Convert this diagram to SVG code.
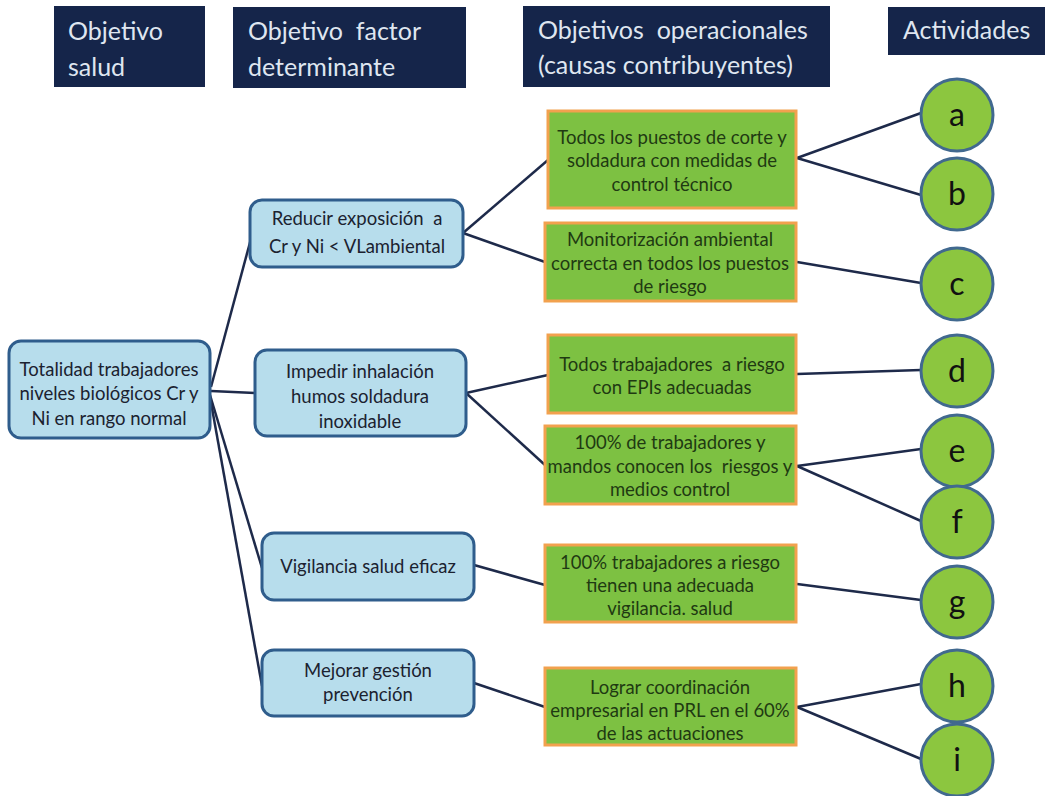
<svg xmlns="http://www.w3.org/2000/svg" width="1053" height="796" viewBox="0 0 1053 796">
<style>
.hdr{fill:#15254a}
.ht{font-family:Lato,"Open Sans",sans-serif;font-size:25px;fill:#dfe6f0}
.bn{fill:#b7ddec;stroke:#2f5d8c;stroke-width:3}
.bt{font-family:Lato,"Open Sans",sans-serif;font-size:18.5px;fill:#1b2230;text-anchor:middle}
.gn{fill:#7dc142;stroke:#f2a14e;stroke-width:3}
.gt{font-family:Lato,"Open Sans",sans-serif;font-size:18.5px;fill:#1f3a12;text-anchor:middle}
.cn{fill:#8cc63f;stroke:#41698f;stroke-width:3}
.ct{font-family:Lato,"Open Sans",sans-serif;font-size:32px;fill:#111;text-anchor:middle}
.ln{stroke:#1e2a4a;stroke-width:2.5;fill:none}
</style>
<rect width="1053" height="796" fill="#fff"/>
<g id="headers">
<g id="h1"><rect class="hdr" x="54" y="6" width="151" height="81"/><text class="ht" x="68" y="40">Objetivo</text><text class="ht" x="68" y="76">salud</text></g>
<g id="h2"><rect class="hdr" x="233" y="7" width="233" height="81"/><text class="ht" x="248" y="40" xml:space="preserve">Objetivo  factor</text><text class="ht" x="248" y="76">determinante</text></g>
<g id="h3"><rect class="hdr" x="523" y="6" width="307" height="81"/><text class="ht" x="538" y="39" xml:space="preserve">Objetivos  operacionales</text><text class="ht" x="538" y="74">(causas contribuyentes)</text></g>
<g id="h4"><rect class="hdr" x="888" y="7" width="157" height="48"/><text class="ht" x="903" y="39">Actividades</text></g>
</g>
<g id="connectors">
<line class="ln" x1="211" y1="387" x2="252" y2="235"/>
<line class="ln" x1="211" y1="391" x2="255" y2="393"/>
<line class="ln" x1="210" y1="395" x2="262" y2="568"/>
<line class="ln" x1="210" y1="397" x2="262" y2="686"/>
<line class="ln" x1="463" y1="233" x2="548" y2="160"/>
<line class="ln" x1="463" y1="233" x2="545" y2="262"/>
<line class="ln" x1="466" y1="393" x2="548" y2="375"/>
<line class="ln" x1="466" y1="393" x2="545" y2="465"/>
<line class="ln" x1="474" y1="565" x2="545" y2="585"/>
<line class="ln" x1="474" y1="683" x2="545" y2="707"/>
<line class="ln" x1="797" y1="158" x2="921" y2="113"/>
<line class="ln" x1="797" y1="158" x2="921" y2="195"/>
<line class="ln" x1="797" y1="262" x2="921" y2="283"/>
<line class="ln" x1="797" y1="374" x2="921" y2="370"/>
<line class="ln" x1="797" y1="466" x2="921" y2="449"/>
<line class="ln" x1="797" y1="466" x2="921" y2="521"/>
<line class="ln" x1="797" y1="584" x2="921" y2="600"/>
<line class="ln" x1="797" y1="707" x2="921" y2="684"/>
<line class="ln" x1="797" y1="707" x2="921" y2="759"/>
</g>
<g id="root"><rect class="bn" x="9" y="341" width="201" height="97" rx="12"/><text class="bt" x="109" y="376">Totalidad trabajadores</text><text class="bt" x="109" y="400">niveles biológicos Cr y</text><text class="bt" x="109" y="425">Ni en rango normal</text></g>
<g id="reducir"><rect class="bn" x="250" y="200" width="213" height="67" rx="12"/><text class="bt" x="357" y="225" xml:space="preserve">Reducir exposición  a</text><text class="bt" x="357" y="253">Cr y Ni &lt; VLambiental</text></g>
<g id="impedir"><rect class="bn" x="255" y="350" width="211" height="86" rx="12"/><text class="bt" x="360" y="378">Impedir inhalación</text><text class="bt" x="360" y="403">humos soldadura</text><text class="bt" x="360" y="428">inoxidable</text></g>
<g id="vigilancia"><rect class="bn" x="262" y="533" width="212" height="67" rx="12"/><text class="bt" x="368" y="573">Vigilancia salud eficaz</text></g>
<g id="mejorar"><rect class="bn" x="262" y="650" width="212" height="66" rx="12"/><text class="bt" x="368" y="677">Mejorar gestión</text><text class="bt" x="368" y="701">prevención</text></g>
<g id="op1"><rect class="gn" x="548" y="111" width="248" height="97"/><text class="gt" x="672" y="144">Todos los puestos de corte y</text><text class="gt" x="672" y="167">soldadura con medidas de</text><text class="gt" x="672" y="191">control técnico</text></g>
<g id="op2"><rect class="gn" x="545" y="223" width="251" height="78"/><text class="gt" x="670" y="246">Monitorización ambiental</text><text class="gt" x="670" y="270">correcta en todos los puestos</text><text class="gt" x="670" y="293">de riesgo</text></g>
<g id="op3"><rect class="gn" x="548" y="335" width="248" height="78"/><text class="gt" x="672" y="371" xml:space="preserve">Todos trabajadores  a riesgo</text><text class="gt" x="672" y="394">con EPIs adecuadas</text></g>
<g id="op4"><rect class="gn" x="545" y="426" width="251" height="78"/><text class="gt" x="670" y="449">100% de trabajadores y</text><text class="gt" x="670" y="473" xml:space="preserve">mandos conocen los  riesgos y</text><text class="gt" x="670" y="496">medios control</text></g>
<g id="op5"><rect class="gn" x="545" y="545" width="251" height="77"/><text class="gt" x="670" y="569">100% trabajadores a riesgo</text><text class="gt" x="670" y="592">tienen una adecuada</text><text class="gt" x="670" y="615">vigilancia. salud</text></g>
<g id="op6"><rect class="gn" x="545" y="668" width="251" height="77"/><text class="gt" x="670" y="694">Lograr coordinación</text><text class="gt" x="670" y="717">empresarial en PRL en el 60%</text><text class="gt" x="670" y="740">de las actuaciones</text></g>
<g id="ca"><circle class="cn" cx="957" cy="115" r="36"/><text class="ct" x="957" y="126">a</text></g>
<g id="cb"><circle class="cn" cx="957" cy="194" r="36"/><text class="ct" x="957" y="205">b</text></g>
<g id="cc"><circle class="cn" cx="957" cy="284" r="36"/><text class="ct" x="957" y="295">c</text></g>
<g id="cd"><circle class="cn" cx="957" cy="371" r="36"/><text class="ct" x="957" y="382">d</text></g>
<g id="ce"><circle class="cn" cx="957" cy="451" r="36"/><text class="ct" x="957" y="462">e</text></g>
<g id="cf"><circle class="cn" cx="957" cy="522" r="36"/><text class="ct" x="957" y="533">f</text></g>
<g id="cg"><circle class="cn" cx="957" cy="602" r="36"/><text class="ct" x="957" y="613">g</text></g>
<g id="ch"><circle class="cn" cx="957" cy="686" r="36"/><text class="ct" x="957" y="697">h</text></g>
<g id="ci"><circle class="cn" cx="957" cy="760" r="36"/><text class="ct" x="957" y="771">i</text></g>
</svg>
